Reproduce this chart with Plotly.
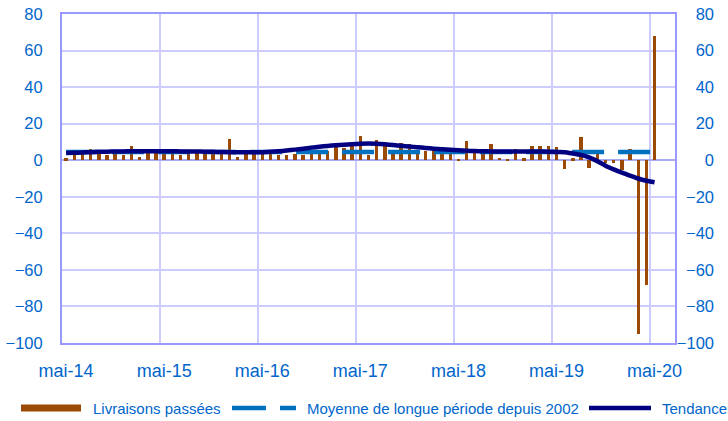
import plotly.graph_objects as go

# Monthly categories mai-14 .. juil-20 (data until mai-20)
tick_labels = ["mai-14", "mai-15", "mai-16", "mai-17", "mai-18", "mai-19", "mai-20"]
n_categories = 75
series_names = ["Livraisons passées", "Moyenne de longue période depuis 2002", "Tendance"]

livraisons = [
    1.0, 3.5, 3.5, 6.0, 3.5, 3.0, 4.0, 3.0, 7.7, 1.8, 6.0, 4.0,
    4.0, 6.0, 3.0, 4.5, 4.5, 3.5, 3.5, 3.5, 11.4, 1.8, 5.5, 4.0,
    4.0, 4.0, 2.8, 3.0, 3.5, 3.0, 4.0, 4.5, 5.0, 9.0, 6.8, 8.0,
    13.3, 3.0, 11.0, 8.5, 3.5, 9.5, 8.7, 4.0, 5.0, 5.0, 3.5, 3.5,
    0.5, 10.4, 4.0, 4.0, 8.7, 1.4, 0.9, 6.3, 1.0, 7.8, 7.8, 7.8,
    7.0, -5.0, 1.0, 12.7, -4.0, 3.3, -1.3, -1.3, -5.5, 6.3, -95.0, -68.0,
    68.0,
]
moyenne = [4.5] * 73
tendance = [
    4.0, 4.1, 4.2, 4.4, 4.6, 4.7, 4.8, 4.8, 4.9, 4.9, 4.9, 4.9,
    4.9, 4.9, 4.8, 4.8, 4.8, 4.7, 4.6, 4.5, 4.4, 4.3, 4.3, 4.3,
    4.4, 4.6, 4.9, 5.3, 5.8, 6.3, 6.9, 7.4, 7.8, 8.2, 8.5, 8.8,
    9.0, 9.1, 9.0, 8.7, 8.3, 7.9, 7.5, 7.1, 6.7, 6.3, 6.0, 5.7,
    5.4, 5.2, 5.0, 4.9, 4.8, 4.8, 4.8, 4.8, 4.8, 4.8, 4.8, 4.7,
    4.5, 4.4, 3.7, 2.9, 1.6, -0.5, -3.0, -5.0, -6.8, -8.4, -10.0, -11.2,
    -12.0,
]

months = list(range(len(livraisons)))
y_ticks = list(range(-100, 81, 20))

BLUE_TXT = "#0066CC"
FONT = "Liberation Sans, Arial, sans-serif"
BROWN = "#9B4A06"
MID_BLUE = "#0070C0"
NAVY = "#000080"

W, H = 728, 421
ML, MR, MT, MB = 62, 14, 14, 78
paper_w = W - ML - MR
paper_h = H - MT - MB
x_dom_end = (675 - ML) / paper_w


def px_x(px):
    # window pixel -> paper fraction
    return (px - ML) / paper_w


def px_y(py):
    return (H - MB - py) / paper_h


fig = go.Figure()
fig.add_trace(go.Bar(x=months, y=livraisons, width=0.42, marker_color=BROWN,
                     marker_line_width=0, name=series_names[0]))
fig.add_trace(go.Scatter(x=months, y=moyenne, mode="lines", name=series_names[1],
                         line=dict(color=MID_BLUE, width=4.5, dash="32px,14px"), yaxis="y2"))
fig.add_trace(go.Scatter(x=months, y=tendance, mode="lines", name=series_names[2],
                         line=dict(color=NAVY, width=4.5, shape="spline", smoothing=0.6),
                         yaxis="y2"))

# Legend drawn below the plot (wide line samples as in the original)
leg_y = px_y(408)
legend_items = [
    (series_names[0], BROWN, 7, "solid", 21, 81, 91),
    (series_names[1], MID_BLUE, 4.5, "34px,14px", 232, 296, 305),
    (series_names[2], NAVY, 4.5, "solid", 589, 651, 660),
]
for name, color, width, dash, x0, x1, xt in legend_items:
    fig.add_shape(type="line", xref="paper", yref="paper",
                  x0=px_x(x0), x1=px_x(x1), y0=leg_y, y1=leg_y,
                  line=dict(color=color, width=width, dash=dash))
    fig.add_annotation(xref="paper", yref="paper", x=px_x(xt), y=leg_y,
                       xanchor="left", yanchor="middle", text=name, showarrow=False,
                       font=dict(family=FONT, size=15, color=BLUE_TXT))

fig.update_layout(
    width=W, height=H,
    margin=dict(l=ML, r=MR, t=MT, b=MB),
    paper_bgcolor="white", plot_bgcolor="white",
    font=dict(family=FONT, size=14, color=BLUE_TXT),
    showlegend=False,
    bargap=0,
    xaxis=dict(
        domain=[0, x_dom_end], automargin=False,
        range=[-0.5, n_categories - 0.5],
        tickmode="array", tickvals=months[::12], ticktext=tick_labels,
        showgrid=False, zeroline=False,
        showline=True, mirror=True, linecolor="#9999FF", linewidth=2,
        ticks="outside", ticklen=10, tickcolor="rgba(0,0,0,0)",
        tickfont=dict(family=FONT, size=18, color=BLUE_TXT),
        minor=dict(tickmode="array", tickvals=[m - 0.5 for m in months[12::12]],
                   showgrid=True, gridcolor="#CCCCFF", gridwidth=1.5, ticks=""),
    ),
    yaxis=dict(
        range=[-100, 80], tickmode="array", tickvals=y_ticks, automargin=False,
        showgrid=True, gridcolor="#CCCCFF", gridwidth=1.5,
        zeroline=True, zerolinecolor="#AAAAF0", zerolinewidth=1.5,
        showline=True, mirror=True, linecolor="#9999FF", linewidth=2,
        ticks="outside", ticklen=14, tickcolor="rgba(0,0,0,0)",
        ticklabeloverflow="allow",
        tickfont=dict(family=FONT, size=16.5, color=BLUE_TXT),
    ),
    yaxis2=dict(
        overlaying="y", side="left", anchor="free", position=1.0, automargin=False,
        range=[-100, 80], tickmode="array", tickvals=y_ticks,
        showgrid=False, zeroline=False, showline=False, ticks="",
        ticklabeloverflow="allow",
        tickfont=dict(family=FONT, size=16.5, color=BLUE_TXT),
    ),
)

# remove the default 8px page margin so the 728x421 figure fills the window
fig.write_html("out.html", config={"displayModeBar": False},
               post_script="document.body.style.margin='0px';")
